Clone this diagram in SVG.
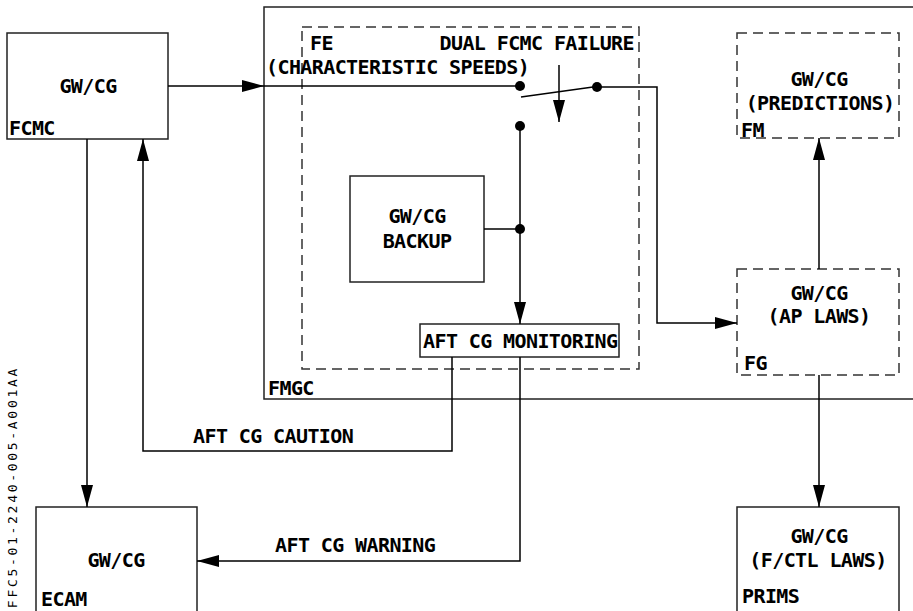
<svg xmlns="http://www.w3.org/2000/svg" width="913" height="611" viewBox="0 0 913 611">
<defs>
<style>
.box{fill:none;stroke:#222;stroke-width:1.5}
.dash{fill:none;stroke:#333;stroke-width:1.5;stroke-dasharray:10 6}
.ln{fill:none;stroke:#000;stroke-width:1.5}
.t{font-family:"DejaVu Sans Mono","Liberation Mono",monospace;font-weight:bold;font-size:20px;letter-spacing:-0.6px;fill:#000}
.c{text-anchor:middle}
.s{font-family:"DejaVu Sans Mono","Liberation Mono",monospace;font-size:13px;letter-spacing:2.7px;fill:#000}
.dot{fill:#000}
</style>
<marker id="ah" markerUnits="userSpaceOnUse" markerWidth="22" markerHeight="12" refX="22" refY="6" orient="auto">
<path d="M0,0 L22,6 L0,12 z" fill="#000"/>
</marker>
</defs>
<rect width="913" height="611" fill="#fff"/>

<g id="fmgc">
<rect class="box" x="264" y="7" width="700" height="392"/>
<text class="t" x="268" y="395">FMGC</text>
</g>
<g id="fe">
<rect class="dash" x="302" y="27" width="337" height="342"/>
<text class="t" x="310" y="50">FE</text>
<text class="t" x="634" y="50" text-anchor="end">DUAL FCMC FAILURE</text>
<text class="t" x="266" y="74">(CHARACTERISTIC SPEEDS)</text>
</g>
<g id="fcmc">
<rect class="box" x="7" y="33" width="161" height="106"/>
<text class="t c" x="88" y="93">GW/CG</text>
<text class="t" x="9" y="135">FCMC</text>
</g>
<g id="backup">
<rect class="box" x="350" y="176" width="134" height="106"/>
<text class="t c" x="417" y="223">GW/CG</text>
<text class="t c" x="417" y="248">BACKUP</text>
</g>
<g id="monitoring">
<rect class="box" x="420" y="324" width="199" height="33"/>
<text class="t" x="423" y="348">AFT CG MONITORING</text>
</g>
<g id="fm">
<rect class="dash" x="737" y="33" width="162" height="105"/>
<text class="t c" x="819" y="86">GW/CG</text>
<text class="t c" x="820" y="110">(PREDICTIONS)</text>
<text class="t" x="741" y="137">FM</text>
</g>
<g id="fg">
<rect class="dash" x="737" y="269" width="162" height="106"/>
<text class="t c" x="819" y="300">GW/CG</text>
<text class="t c" x="819" y="323">(AP LAWS)</text>
<text class="t" x="744" y="370">FG</text>
</g>
<g id="ecam">
<rect class="box" x="36" y="507" width="161" height="120"/>
<text class="t c" x="116" y="567">GW/CG</text>
<text class="t" x="41" y="606">ECAM</text>
</g>
<g id="prims">
<rect class="box" x="737" y="507" width="162" height="120"/>
<text class="t c" x="819" y="543">GW/CG</text>
<text class="t c" x="818" y="567">(F/CTL LAWS)</text>
<text class="t" x="742" y="603">PRIMS</text>
</g>

<g id="connectors">
<path class="ln" d="M168,86 H264" marker-end="url(#ah)"/>
<path class="ln" d="M264,86 H520"/>
<path class="ln" d="M521,97 L593,87"/>
<path class="ln" d="M559,65 V122" marker-end="url(#ah)"/>
<path class="ln" d="M597,87 H657 V323 H737" marker-end="url(#ah)"/>
<path class="ln" d="M520,126 V324" marker-end="url(#ah)"/>
<path class="ln" d="M484,229 H520"/>
<path class="ln" d="M452,357 V451 H143 V139" marker-end="url(#ah)"/>
<path class="ln" d="M520,357 V561 H197" marker-end="url(#ah)"/>
<path class="ln" d="M87,139 V507" marker-end="url(#ah)"/>
<path class="ln" d="M819,269 V138" marker-end="url(#ah)"/>
<path class="ln" d="M819,375 V507" marker-end="url(#ah)"/>
<circle class="dot" cx="520" cy="86" r="5"/>
<circle class="dot" cx="597" cy="87" r="5"/>
<circle class="dot" cx="520" cy="126" r="5"/>
<circle class="dot" cx="520" cy="229" r="5"/>
<text class="t" x="193" y="443">AFT CG CAUTION</text>
<text class="t" x="275" y="552">AFT CG WARNING</text>
</g>

<text class="s" transform="translate(17,366) rotate(-90)" text-anchor="end">FFC5-01-2240-005-A001AA</text>
</svg>
